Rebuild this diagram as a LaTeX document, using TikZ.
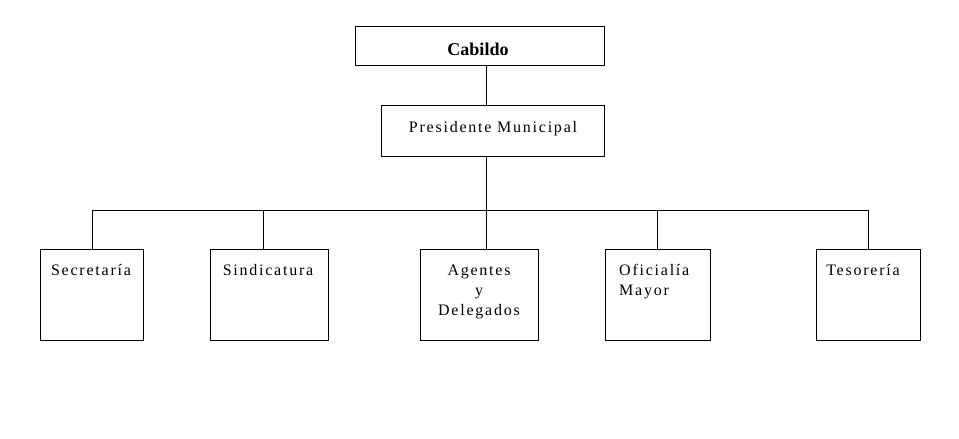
\documentclass[tikz,border=0pt]{standalone}
\usepackage{fontspec}
\setmainfont{Liberation Serif}
\newfontfamily\spaced[LetterSpace=11]{Liberation Serif}
\begin{document}
\begin{tikzpicture}[x=1pt,y=-1pt,
  box/.style={draw,line width=0.8pt,minimum width=#1,inner sep=0pt},
  lbl/.style={font=\spaced\fontsize{16}{20}\selectfont,inner sep=0pt},
  conn/.style={line width=0.8pt}]
\useasboundingbox (0,0) rectangle (959,439);
% top boxes
\node[box=249pt,minimum height=39pt] (cab) at (479.5,45.5) {};
\node[font=\bfseries\fontsize{18}{20}\selectfont,anchor=base,inner sep=0pt] (cabt) at (478,55) {Cabildo};
\node[box=223pt,minimum height=51pt] (pres) at (492.5,130.5) {};
\node[lbl,anchor=base] (prest) at (493,132) {Presidente Municipal};
% bottom boxes
\node[box=103pt,minimum height=91pt] (sec) at (91.5,294.5) {};
\node[box=118pt,minimum height=91pt] (sin) at (269,294.5) {};
\node[box=118pt,minimum height=91pt] (age) at (479,294.5) {};
\node[box=105pt,minimum height=91pt] (ofi) at (657.5,294.5) {};
\node[box=104pt,minimum height=91pt] (tes) at (868,294.5) {};
\node[lbl,anchor=base] (sect) at (91,275) {Secretaría};
\node[lbl,anchor=base] (sint) at (268,275) {Sindicatura};
\node[lbl,anchor=base,align=center] (aget) at (479,315) {Agentes\\y\\Delegados};
\node[lbl,anchor=base west,align=left] (ofit) at (619,295) {Oficialía\\Mayor};
\node[lbl,anchor=base] (test) at (863,275) {Tesorería};
% connectors
\coordinate (bus) at (486,210);
\draw[conn] (cab.south -| bus) -- (pres.north -| bus);
\draw[conn] (pres.south -| bus) -- (bus);
\coordinate (bl) at (92,210);
\coordinate (br) at (868,210);
\draw[conn] (bl) -- (br);
\draw[conn] (bl) -- (bl |- sec.north);
\draw[conn] (263,210) coordinate (b2) -- (b2 |- sin.north);
\draw[conn] (bus) -- (bus |- age.north);
\draw[conn] (657,210) coordinate (b4) -- (b4 |- ofi.north);
\draw[conn] (br) -- (br |- tes.north);
\end{tikzpicture}
\end{document}
